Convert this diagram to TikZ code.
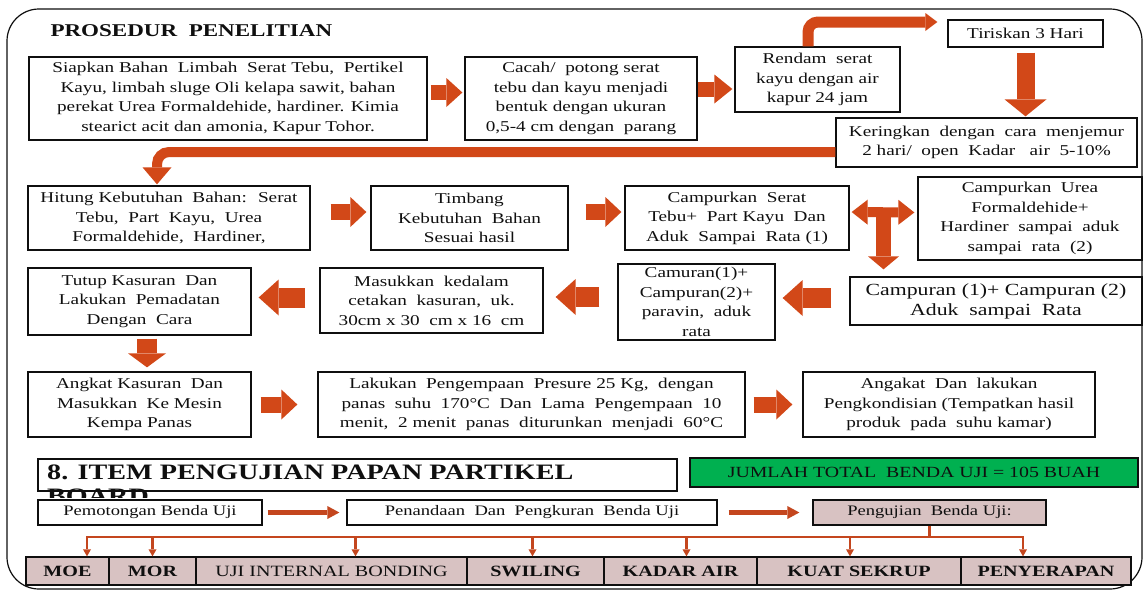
\documentclass[tikz,border=0pt]{standalone}
\usepackage{fontspec}
\setmainfont{Liberation Serif}[FakeStretch=1.28]
\usetikzlibrary{arrows.meta,calc}
\definecolor{arr}{RGB}{210,72,24}
\definecolor{thinarr}{RGB}{196,70,30}
\definecolor{pinkbox}{RGB}{216,194,194}
\definecolor{greenbox}{RGB}{0,176,80}
\definecolor{ink}{RGB}{15,15,15}
\newcommand\bt{\fontsize{15}{19.5}\selectfont}
\newcommand\st{\fontsize{14.5}{17}\selectfont}
\begin{document}
\begin{tikzpicture}[x=1pt,y=-1pt,
  box/.style={draw=ink, line width=1.3pt, fill=white, align=center, inner sep=1pt, text=ink, font=\bt},
  pbox/.style={box, fill=pinkbox},
  test/.style={pbox, minimum height=28pt, font=\bfseries\fontsize{15.7}{17}\selectfont},
  blk/.style n args={3}{draw=arr, line width=#1, line cap=butt, -{Triangle[width=#2,length=#3,line width=0pt]}},
  thinA/.style={draw=thinarr, line width=5pt, -{Triangle[width=13pt,length=12pt,line width=0pt]}},
  tree/.style={draw=thinarr, line width=2.5pt},
  treeA/.style={tree, -{Triangle[width=8pt,length=7pt,line width=0pt]}},
  frame/.style={draw=ink, line width=1.2pt, rounded corners=32pt}
]
\useasboundingbox (0,0) rectangle (1146,592);
\fill[white] (0,0) rectangle (1146,592);
\draw[frame] (7,9) rectangle (1142,589);

\node[anchor=west, font=\bfseries\fontsize{18}{20}\selectfont, text=ink] (title) at (47,31) {PROSEDUR~~PENELITIAN};

% row 1
\node[box, minimum width=398pt, minimum height=83pt] (b1) at (228,98.5)
  {Siapkan Bahan~ Limbah~ Serat Tebu,~ Pertikel\\Kayu, limbah sluge Oli kelapa sawit, bahan\\perekat Urea Formaldehide, hardiner. Kimia\\stearict acit dan amonia, Kapur Tohor.};
\node[box, minimum width=232pt, minimum height=83pt] (b2) at (581,98.5)
  {Cacah/~ potong serat\\tebu dan kayu menjadi\\bentuk dengan ukuran\\0,5-4 cm dengan~ parang};
\node[box, minimum width=165pt, minimum height=65pt] (ren) at (817.5,79.5)
  {Rendam~ serat\\kayu dengan air\\kapur 24 jam};
\node[box, minimum width=155pt, minimum height=27pt] (tir) at (1025.5,33.5)
  {Tiriskan 3 Hari};
\node[box, minimum width=301pt, minimum height=49pt] (ker) at (986.5,142.5)
  {Keringkan~ dengan~ cara~ menjemur\\2 hari/~ open~ Kadar~~ air~ 5-10\%};

% row 2
\node[box, minimum width=282pt, minimum height=64pt] (hit) at (169,218)
  {Hitung Kebutuhan~ Bahan:~ Serat\\Tebu,~ Part~ Kayu,~ Urea\\Formaldehide,~ Hardiner,};
\node[box, minimum width=197pt, minimum height=64pt] (tim) at (469.5,218)
  {Timbang\\Kebutuhan~ Bahan\\Sesuai hasil};
\node[box, minimum width=224pt, minimum height=64pt] (cs) at (737,218)
  {Campurkan~ Serat\\Tebu+~ Part Kayu~ Dan\\Aduk~ Sampai~ Rata (1)};
\node[box, minimum width=224pt, minimum height=83pt] (cu) at (1030,218.5)
  {Campurkan~ Urea\\Formaldehide+\\Hardiner~ sampai~ aduk\\sampai~ rata~ (2)};

% row 3
\node[box, minimum width=292pt, minimum height=48pt, font=\fontsize{17}{20}\selectfont] (c12) at (996,301)
  {Campuran (1)+ Campuran (2)\\Aduk~ sampai~ Rata};
\node[box, minimum width=157pt, minimum height=76pt] (cam) at (696.5,302)
  {Camuran(1)+\\Campuran(2)+\\paravin,~ aduk\\rata};
\node[box, minimum width=223pt, minimum height=65pt] (mas) at (431.5,300.5)
  {Masukkan~ kedalam\\cetakan~ kasuran,~ uk.\\30cm x 30~ cm x 16~ cm};
\node[box, minimum width=223pt, minimum height=67pt] (tut) at (139.5,301.5)
  {Tutup Kasuran~ Dan\\Lakukan~ Pemadatan\\Dengan~ Cara};

% row 4
\node[box, minimum width=223pt, minimum height=65pt] (ang) at (139.5,404.5)
  {Angkat Kasuran~ Dan\\Masukkan~ Ke Mesin\\Kempa Panas};
\node[box, minimum width=427pt, minimum height=65pt] (lak) at (531.5,404.5)
  {Lakukan~ Pengempaan~ Presure 25 Kg,~ dengan\\panas~ suhu~ 170°C~ Dan~ Lama~ Pengempaan~ 10\\menit,~ 2 menit~ panas~ diturunkan~ menjadi~ 60°C};
\node[box, minimum width=292pt, minimum height=65pt] (kon) at (949,404.5)
  {Angakat~ Dan~ lakukan\\Pengkondisian (Tempatkan hasil\\produk~ pada~ suhu kamar)};

% section 8
\node[box, minimum width=639pt, minimum height=32pt] (sec) at (357.5,475) {};
\begin{scope}
  \clip (30,440) rectangle (700,497);
  \node[anchor=north west, align=left, inner sep=0pt, text=ink, font=\bfseries\fontsize{22}{24}\selectfont] (sect) at (47,465)
    {8. ITEM PENGUJIAN PAPAN PARTIKEL\\BOARD};
\end{scope}
\node[box, fill=greenbox, minimum width=448pt, minimum height=29pt, font=\fontsize{15.5}{17}\selectfont] (jum) at (914,472.5)
  {JUMLAH TOTAL~~BENDA UJI = 105 BUAH};
\node[box, minimum width=224pt, minimum height=25pt, font=\st] (pem) at (150,512.5) {Pemotongan Benda Uji};
\node[box, minimum width=370pt, minimum height=25pt, font=\st] (pen) at (532,512.5) {Penandaan~ Dan~ Pengkuran~ Benda Uji};
\node[pbox, minimum width=233pt, minimum height=25pt, font=\st] (pu) at (929.5,512.5) {Pengujian~ Benda Uji:};

\node[test, minimum width=83pt] (moe) at (67.5,571) {MOE};
\node[test, minimum width=87pt] (mor) at (152.5,571) {MOR};
\node[test, minimum width=271pt, font=\fontsize{15.7}{17}\selectfont] (uji) at (331.5,571) {UJI INTERNAL BONDING};
\node[test, minimum width=137pt] (swi) at (535.5,571) {SWILING};
\node[test, minimum width=153pt] (kad) at (680.5,571) {KADAR AIR};
\node[test, minimum width=204pt] (kua) at (859,571) {KUAT SEKRUP};
\node[test, minimum width=170pt] (pny) at (1046,571) {PENYERAPAN};

% ---------- connectors ----------
\draw[blk={15pt}{29pt}{16pt}, shorten <=3pt, shorten >=2pt] ([yshift=6pt]b1.east) -- ([yshift=6pt]b2.west);
\draw[blk={15pt}{29pt}{18pt}, shorten >=2pt] ([yshift=9.5pt]b2.east) -- ([yshift=9.5pt]b2.east -| ren.west);
\draw[blk={11pt}{18pt}{12pt}, rounded corners=10pt, shorten >=10pt] ([xshift=-9.5pt]ren.north) |- ([yshift=11.5pt]tir.west);
\draw[blk={18pt}{42pt}{17pt}, shorten <=5pt, shorten >=1pt] (tir.south) -- (tir.south |- ker.north);
\draw[blk={10pt}{29pt}{17pt}, rounded corners=12pt, shorten >=1pt] ([yshift=-9.5pt]ker.west) -| ([xshift=-12pt]hit.north);

\draw[blk={16pt}{30pt}{16pt}, shorten <=20pt, shorten >=4pt] ([yshift=6pt]hit.east) -- ([yshift=6pt]tim.west);
\draw[blk={16pt}{30pt}{16pt}, shorten <=17pt, shorten >=3pt] ([yshift=6pt]tim.east) -- ([yshift=6pt]cs.west);
\coordinate (tj) at ($([yshift=6pt]cs.east)!0.5!([yshift=6pt]cu.west)$);
\draw[blk={15pt}{31pt}{13pt}, shorten >=7pt] (tj) -- (tj |- c12.north);
\draw[draw=arr, line width=10pt, {Triangle[width=25pt,length=16pt,line width=0pt]}-{Triangle[width=25pt,length=16pt,line width=0pt]}, shorten <=2pt, shorten >=3pt] ([yshift=6pt]cs.east) -- ([yshift=6pt]cu.west);

\draw[blk={20pt}{36pt}{20pt}, shorten <=18pt, shorten >=7pt] ([yshift=3pt]c12.west) -- ([yshift=3pt]c12.west -| cam.east);
\draw[blk={20pt}{36pt}{20pt}, shorten <=18pt, shorten >=12pt] ([yshift=5pt]cam.west) -- ([yshift=5pt]cam.west -| mas.east);
\draw[blk={20pt}{36pt}{20pt}, shorten <=14pt, shorten >=7pt] ([yshift=3pt]mas.west) -- ([yshift=3pt]mas.west -| tut.east);
\draw[blk={20pt}{38pt}{14pt}, shorten <=3pt, shorten >=4pt] ([xshift=7.5pt]tut.south) -- ([xshift=7.5pt]tut.south |- ang.north);
\draw[blk={16pt}{30pt}{16pt}, shorten <=9pt, shorten >=20pt] (ang.east) -- (lak.west);
\draw[blk={16pt}{30pt}{16pt}, shorten <=8pt, shorten >=10pt] (lak.east) -- (kon.west);

\draw[thinA, shorten <=5pt, shorten >=7pt] (pem.east) -- (pen.west);
\draw[thinA, shorten <=11pt, shorten >=13pt] (pen.east) -- (pu.west);

\coordinate (bus) at (0,537);
\draw[tree] (pu.south) -- (pu.south |- bus);
\draw[tree, line cap=rect] ([xshift=19.5pt]moe.north |- bus) -- ([xshift=-23pt]pny.north |- bus);
\draw[treeA] ([xshift=19.5pt]moe.north |- bus) -- ([xshift=19.5pt]moe.north);
\draw[treeA] (mor.north |- bus) -- (mor.north);
\draw[treeA] ([xshift=24pt]uji.north |- bus) -- ([xshift=24pt]uji.north);
\draw[treeA] ([xshift=-3pt]swi.north |- bus) -- ([xshift=-3pt]swi.north);
\draw[treeA] ([xshift=6pt]kad.north |- bus) -- ([xshift=6pt]kad.north);
\draw[treeA] ([xshift=-9pt]kua.north |- bus) -- ([xshift=-9pt]kua.north);
\draw[treeA] ([xshift=-23pt]pny.north |- bus) -- ([xshift=-23pt]pny.north);
\end{tikzpicture}
\end{document}
